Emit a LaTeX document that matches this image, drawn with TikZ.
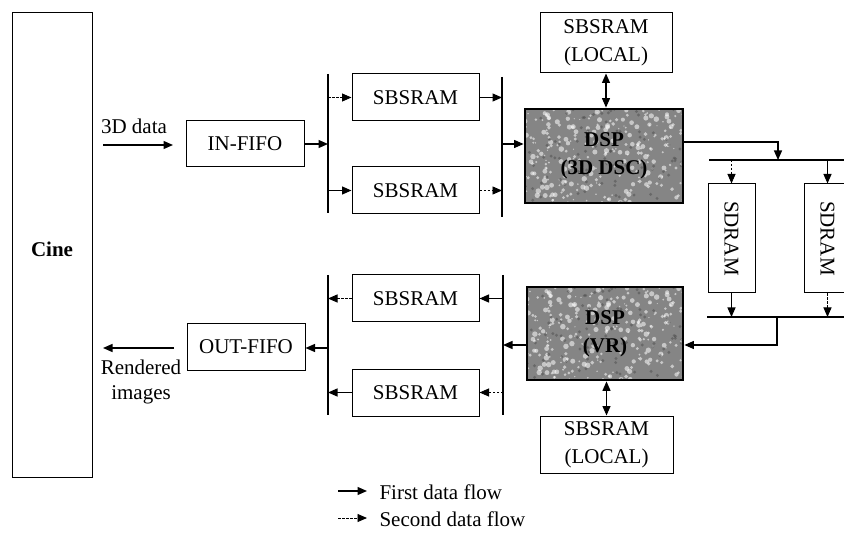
\documentclass[tikz,border=0pt]{standalone}
\usepackage{fontspec}
\setmainfont{Liberation Serif}
\usetikzlibrary{arrows.meta}
\begin{document}
\begin{tikzpicture}[x=1pt,y=-1pt,
  font=\fontsize{21}{28}\selectfont,
  blk/.style={draw,line width=1pt,inner sep=0pt,align=center},
  dspbox/.style={line width=2.8pt,inner sep=0pt,align=center,font=\fontsize{21}{28}\selectfont\bfseries},
  bus/.style={line width=1.2pt},
  flow/.style={line width=1.2pt,-{Triangle[length=9.5pt,width=8pt]}},
  flow2/.style={flow,line width=0.9pt,dash pattern=on 2.5pt off 1.5pt},
  both/.style={line width=1.2pt,{Triangle[length=9.5pt,width=8pt]}-{Triangle[length=9.5pt,width=8pt]}}]
\useasboundingbox (0,0) rectangle (844,548);

% grainy grey fill used for the two DSP boards: corners (x1,y1) and (x2,y2)
\newcommand{\grainfill}[4]{%
  \fill[black!48] (#1,#2) rectangle (#3,#4);
  \begin{scope}
    \clip (#1,#2) rectangle (#3,#4);
    \pgfmathsetseed{7}
    \foreach \k in {1,...,260}{
      \pgfmathsetmacro{\px}{#1+(#3-#1)*rnd}
      \pgfmathsetmacro{\py}{#2+(#4-#2)*rnd}
      \pgfmathsetmacro{\pr}{0.6+2.2*rnd}
      \fill[white,opacity=0.55] (\px,\py) circle (\pr pt);
    }
    \foreach \k in {1,...,90}{
      \pgfmathsetmacro{\px}{#1+(#3-#1)*rnd}
      \pgfmathsetmacro{\py}{#2+(#4-#2)*rnd}
      \fill[black!70,opacity=0.5] (\px,\py) circle (1.6pt);
    }
  \end{scope}}

% storage and processing blocks
\node[blk,minimum width=80pt,minimum height=464pt] (cine) at (52,245) {};
\node[font=\fontsize{21}{28}\selectfont\bfseries] (cinelbl) at (52,249) {Cine};
\node[blk,minimum width=118pt,minimum height=46pt] (infifo) at (245,144) {IN-FIFO};
\node[blk,minimum width=127pt,minimum height=47pt] (s1) at (415.5,97.5) {SBSRAM};
\node[blk,minimum width=127pt,minimum height=47pt] (s2) at (415.5,190.5) {SBSRAM};
\node[blk,minimum width=132pt,minimum height=60pt] (loc1) at (606,43) {SBSRAM\\(LOCAL)};
\node[blk,minimum width=47pt,minimum height=109pt] (sd1) at (731.5,238.5) {\rotatebox{-90}{SDRAM}};
\node[blk,minimum width=47pt,minimum height=109pt] (sd2) at (827.5,238.5) {\rotatebox{-90}{SDRAM}};
\node[blk,minimum width=133pt,minimum height=57pt] (loc2) at (606.5,444.5) {SBSRAM\\(LOCAL)};
\node[blk,minimum width=127pt,minimum height=47pt] (s3) at (415.5,298.5) {SBSRAM};
\node[blk,minimum width=127pt,minimum height=47pt] (s4) at (415.5,392.5) {SBSRAM};
\node[blk,minimum width=118pt,minimum height=46pt] (outfifo) at (246,347) {OUT-FIFO};

% DSP boards: grainy fill, then the framed label on top
\grainfill{525}{109}{683}{203}
\grainfill{527}{287}{683}{380}
\node[dspbox,draw,minimum width=158pt,minimum height=94pt] (dsp1) at (604,156) {DSP\\(3D DSC)};
\node[dspbox,draw,minimum width=156pt,minimum height=93pt] (dsp2) at (605,333.5) {DSP\\(VR)};

% bus bars
\coordinate (aT) at (328,74);  \coordinate (aB) at (328,213);
\coordinate (bT) at (502,77);  \coordinate (bB) at (502,217);
\coordinate (cT) at (503,275); \coordinate (cB) at (503,415);
\coordinate (dT) at (328,275); \coordinate (dB) at (328,415);
\coordinate (eL) at (709,160); \coordinate (eR) at (844,160);
\coordinate (fL) at (707,317); \coordinate (fR) at (844,317);
\draw[bus] (aT) -- (aB);
\draw[bus] (bT) -- (bB);
\draw[bus] (cT) -- (cB);
\draw[bus] (dT) -- (dB);
\draw[bus] (eL) -- (eR);
\draw[bus] (fL) -- (fR);

% input path
\coordinate (inS) at (103,145); \coordinate (inE) at (173,145);
\draw[flow] (inS) -- (inE);
\node[anchor=south] (lbl3d) at (134,137) {3D data};
\draw[flow] (infifo.east) -- (infifo.east -| aT);
\draw[flow2] (s1.west -| aT) -- (s1.west);
\draw[flow] (s2.west -| aT) -- (s2.west);
\draw[flow] (s1.east) -- (s1.east -| bT);
\draw[flow2] (s2.east) -- (s2.east -| bT);
\coordinate (bMid) at (502,144);
\draw[flow] (bMid) -- (bMid -| dsp1.west);
\draw[both] (loc1.south) -- (dsp1.north -| loc1.south);

% SDRAM exchange
\coordinate (d1out) at (dsp1.east |- 0,142);
\coordinate (eTap) at (778,142);
\draw[flow] (d1out) -- (eTap) -- (eTap |- eL);
\draw[flow2] (sd1.north |- eL) -- (sd1.north);
\draw[flow] (sd2.north |- eL) -- (sd2.north);
\draw[flow] (sd1.south) -- (sd1.south |- fL);
\draw[flow2] (sd2.south) -- (sd2.south |- fL);
\coordinate (fTap) at (777,317);
\coordinate (fTurn) at (777,345);
\draw[flow] (fTap) -- (fTurn) -- (fTurn -| dsp2.east);

% output path
\coordinate (d2out) at (dsp2.west |- 0,345);
\draw[flow] (d2out) -- (d2out -| cT);
\draw[flow] (s3.east -| cT) -- (s3.east);
\draw[flow2] (s4.east -| cT) -- (s4.east);
\draw[flow2] (s3.west) -- (s3.west -| dT);
\draw[flow] (s4.west) -- (s4.west -| dT);
\coordinate (dMid) at (328,348);
\draw[flow] (dMid) -- (dMid -| outfifo.east);
\coordinate (outS) at (174,348); \coordinate (outE) at (103,348);
\draw[flow] (outS) -- (outE);
\node[anchor=north,align=center,font=\fontsize{21}{25}\selectfont] (lblout) at (141,356) {Rendered\\images};
\draw[both] (dsp2.south -| loc2.north) -- (loc2.north);

% legend
\coordinate (l1a) at (338,491); \coordinate (l1b) at (367,491);
\coordinate (l2a) at (338,518); \coordinate (l2b) at (367,518);
\draw[flow] (l1a) -- (l1b);
\draw[flow2] (l2a) -- (l2b);
\node[anchor=west] (leg1) at (376,492) {First data flow};
\node[anchor=west] (leg2) at (376,519) {Second data flow};
\end{tikzpicture}
\end{document}
